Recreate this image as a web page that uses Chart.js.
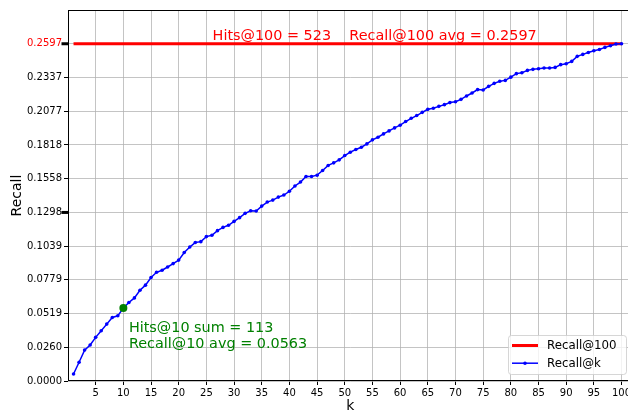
<!DOCTYPE html>
<html>
<head>
<meta charset="utf-8">
<script src="https://cdn.jsdelivr.net/npm/chart.js@4/dist/chart.umd.min.js"></script>
<style>
  html, body { margin: 0; padding: 0; background: #fff; overflow: hidden; }
  #wrap { width: 660px; height: 414px; }
</style>
</head>
<body>
<div id="wrap"><canvas id="recallChart" width="660" height="414"></canvas></div>
<script>
// k = 1..100
const kValues = [
    1, 2, 3, 4, 5, 6, 7, 8, 9, 10,
    11, 12, 13, 14, 15, 16, 17, 18, 19, 20,
    21, 22, 23, 24, 25, 26, 27, 28, 29, 30,
    31, 32, 33, 34, 35, 36, 37, 38, 39, 40,
    41, 42, 43, 44, 45, 46, 47, 48, 49, 50,
    51, 52, 53, 54, 55, 56, 57, 58, 59, 60,
    61, 62, 63, 64, 65, 66, 67, 68, 69, 70,
    71, 72, 73, 74, 75, 76, 77, 78, 79, 80,
    81, 82, 83, 84, 85, 86, 87, 88, 89, 90,
    91, 92, 93, 94, 95, 96, 97, 98, 99, 100
];

// mean recall@k over all queries
const recallAtK = [
    0.0054, 0.0144, 0.0238, 0.0277, 0.0336, 0.0387, 0.0438, 0.0489, 0.0502, 0.0563,
    0.0605, 0.0640, 0.0699, 0.0738, 0.0797, 0.0837, 0.0853, 0.0878, 0.0904, 0.0931,
    0.0989, 0.1032, 0.1066, 0.1073, 0.1112, 0.1122, 0.1158, 0.1183, 0.1199, 0.1229,
    0.1258, 0.1291, 0.1311, 0.1309, 0.1347, 0.1378, 0.1393, 0.1416, 0.1432, 0.1461,
    0.1502, 0.1532, 0.1575, 0.1575, 0.1585, 0.1621, 0.1660, 0.1680, 0.1703, 0.1736,
    0.1762, 0.1783, 0.1800, 0.1826, 0.1857, 0.1877, 0.1903, 0.1926, 0.1949, 0.1970,
    0.1998, 0.2023, 0.2044, 0.2069, 0.2092, 0.2100, 0.2115, 0.2128, 0.2144, 0.2151,
    0.2169, 0.2195, 0.2218, 0.2244, 0.2241, 0.2269, 0.2292, 0.2308, 0.2315, 0.2340,
    0.2367, 0.2374, 0.2392, 0.2400, 0.2405, 0.2410, 0.2410, 0.2415, 0.2436, 0.2443,
    0.2461, 0.2500, 0.2515, 0.2530, 0.2543, 0.2553, 0.2569, 0.2582, 0.2595, 0.2597
];

const hits100 = 523;
const recall100Avg = 0.2597;
const hits10Sum = 113;
const recall10Avg = 0.0563;
const markK = 10;

const xTicks = [5, 10, 15, 20, 25, 30, 35, 40, 45, 50, 55, 60, 65, 70, 75, 80, 85, 90, 95, 100];
const yTickLabels = ['0.0000', '0.0260', '0.0519', '0.0779', '0.1039', '0.1298',
                     '0.1558', '0.1818', '0.2077', '0.2337', '0.2597'];
// ticks drawn heavier on the y axis (full and half of recall@100)
const heavyTicks = [0.2597, 0.1298];
// legend entries, top to bottom
const legendOrder = ['Recall@100', 'Recall@k'];

const FONT = '"DejaVu Sans", "Liberation Sans", sans-serif';

const chartDecorations = {
    id: 'chartDecorations',
    afterDraw(chart) {
        const { ctx, chartArea: a, scales: { x, y } } = chart;
        ctx.save();

        // axes box
        ctx.strokeStyle = '#000';
        ctx.lineWidth = 1;
        ctx.strokeRect(Math.round(a.left) + 0.5, Math.round(a.top) + 0.5,
            Math.round(a.right - a.left), Math.round(a.bottom - a.top) - 1);

        // heavy y ticks
        ctx.lineWidth = 3;
        heavyTicks.forEach(v => {
            const py = y.getPixelForValue(v);
            ctx.beginPath();
            ctx.moveTo(a.left - 6.5, py);
            ctx.lineTo(a.left + 1, py);
            ctx.stroke();
        });

        // recall@100 note above the red line
        ctx.font = '14.4px ' + FONT;
        ctx.fillStyle = '#ff0000';
        ctx.textAlign = 'center';
        ctx.textBaseline = 'alphabetic';
        ctx.fillText(`Hits@100 = ${hits100}    Recall@100 avg = ${recall100Avg.toFixed(4)}`,
            x.getPixelForValue(55.4), y.getPixelForValue(recall100Avg) - 3.7);

        // recall@10 note under the green marker
        const gx = x.getPixelForValue(markK + 1);
        const gy = y.getPixelForValue(recall10Avg);
        ctx.fillStyle = '#008000';
        ctx.textAlign = 'left';
        ctx.fillText(`Hits@10 sum = ${hits10Sum}`, gx, gy + 23.7);
        ctx.fillText(`Recall@10 avg = ${recall10Avg.toFixed(4)}`, gx, gy + 40.3);

        // legend, lower right inside the axes
        const items = legendOrder.map(name => chart.data.datasets.find(d => d.label === name));
        const bw = 118, bh = 39;
        const bx = a.right - 6.6 - bw;
        const by = a.bottom - 7 - bh;
        ctx.globalAlpha = 0.8;
        ctx.fillStyle = '#fff';
        ctx.strokeStyle = '#cccccc';
        ctx.lineWidth = 1;
        ctx.beginPath();
        ctx.roundRect(bx + 0.5, by + 0.5, bw, bh, 3);
        ctx.fill();
        ctx.stroke();
        ctx.globalAlpha = 1;
        ctx.font = '11.8px ' + FONT;
        ctx.textBaseline = 'middle';
        items.forEach((d, i) => {
            const ly = by + 10.5 + i * 17.7;
            ctx.strokeStyle = d.borderColor;
            ctx.lineWidth = d.borderWidth;
            ctx.beginPath();
            ctx.moveTo(bx + 4, ly);
            ctx.lineTo(bx + 30, ly);
            ctx.stroke();
            if (d.pointRadius > 0) {
                ctx.fillStyle = d.borderColor;
                ctx.beginPath();
                ctx.arc(bx + 17, ly, d.pointRadius, 0, Math.PI * 2);
                ctx.fill();
            }
            ctx.fillStyle = '#000';
            ctx.fillText(d.label, bx + 39, ly + 0.5);
        });

        ctx.restore();
    }
};

new Chart(document.getElementById('recallChart').getContext('2d'), {
    type: 'line',
    data: {
        datasets: [
            {
                label: 'Recall@10 point',
                data: [{ x: markK, y: recall10Avg }],
                showLine: false,
                pointRadius: 4,
                pointBackgroundColor: '#008000',
                pointBorderColor: '#008000',
                pointBorderWidth: 0,
                order: 0
            },
            {
                label: 'Recall@k',
                data: kValues.map((k, i) => ({ x: k, y: recallAtK[i] })),
                borderColor: '#0000ff',
                backgroundColor: '#0000ff',
                borderWidth: 1.5,
                pointRadius: 1.8,
                pointBorderWidth: 0,
                pointBackgroundColor: '#0000ff',
                tension: 0,
                order: 1
            },
            {
                label: 'Recall@100',
                data: [{ x: kValues[0], y: recall100Avg }, { x: kValues[kValues.length - 1], y: recall100Avg }],
                borderColor: '#ff0000',
                borderWidth: 3,
                pointRadius: 0,
                order: 2
            }
        ]
    },
    options: {
        responsive: false,
        animation: false,
        devicePixelRatio: 1,
        layout: { padding: { top: 10, right: 27.4, left: 0, bottom: 0 } },
        plugins: {
            legend: { display: false },
            tooltip: { enabled: false }
        },
        scales: {
            x: {
                type: 'linear',
                min: 0,
                max: 102,
                afterBuildTicks: scale => { scale.ticks = xTicks.map(v => ({ value: v })); },
                afterFit: scale => { scale.height = 33; },
                border: { display: false },
                grid: { color: 'rgba(176,176,176,0.75)', lineWidth: 1, tickColor: '#000', tickLength: 4 },
                ticks: {
                    color: '#000',
                    padding: 2,
                    maxRotation: 0,
                    font: { family: FONT, size: 10 },
                    callback: v => String(v)
                },
                title: {
                    display: true,
                    text: 'k',
                    color: '#000',
                    font: { family: FONT, size: 14 },
                    padding: { top: 0, bottom: -1 }
                }
            },
            y: {
                min: 0,
                max: 0.2857,
                afterBuildTicks: scale => { scale.ticks = yTickLabels.map(s => ({ value: Number(s) })); },
                afterFit: scale => { scale.width = 68; },
                border: { display: false },
                grid: { color: 'rgba(176,176,176,0.75)', lineWidth: 1, tickColor: '#000', tickLength: 4 },
                ticks: {
                    padding: 2,
                    font: { family: FONT, size: 10 },
                    color: c => Math.abs(c.tick.value - recall100Avg) < 1e-6 ? '#ff0000' : '#000',
                    callback: v => v.toFixed(4)
                },
                title: {
                    display: true,
                    text: 'Recall',
                    color: '#000',
                    font: { family: FONT, size: 14 },
                    padding: { top: 9, bottom: 0 }
                }
            }
        }
    },
    plugins: [chartDecorations]
});
</script>
</body>
</html>
